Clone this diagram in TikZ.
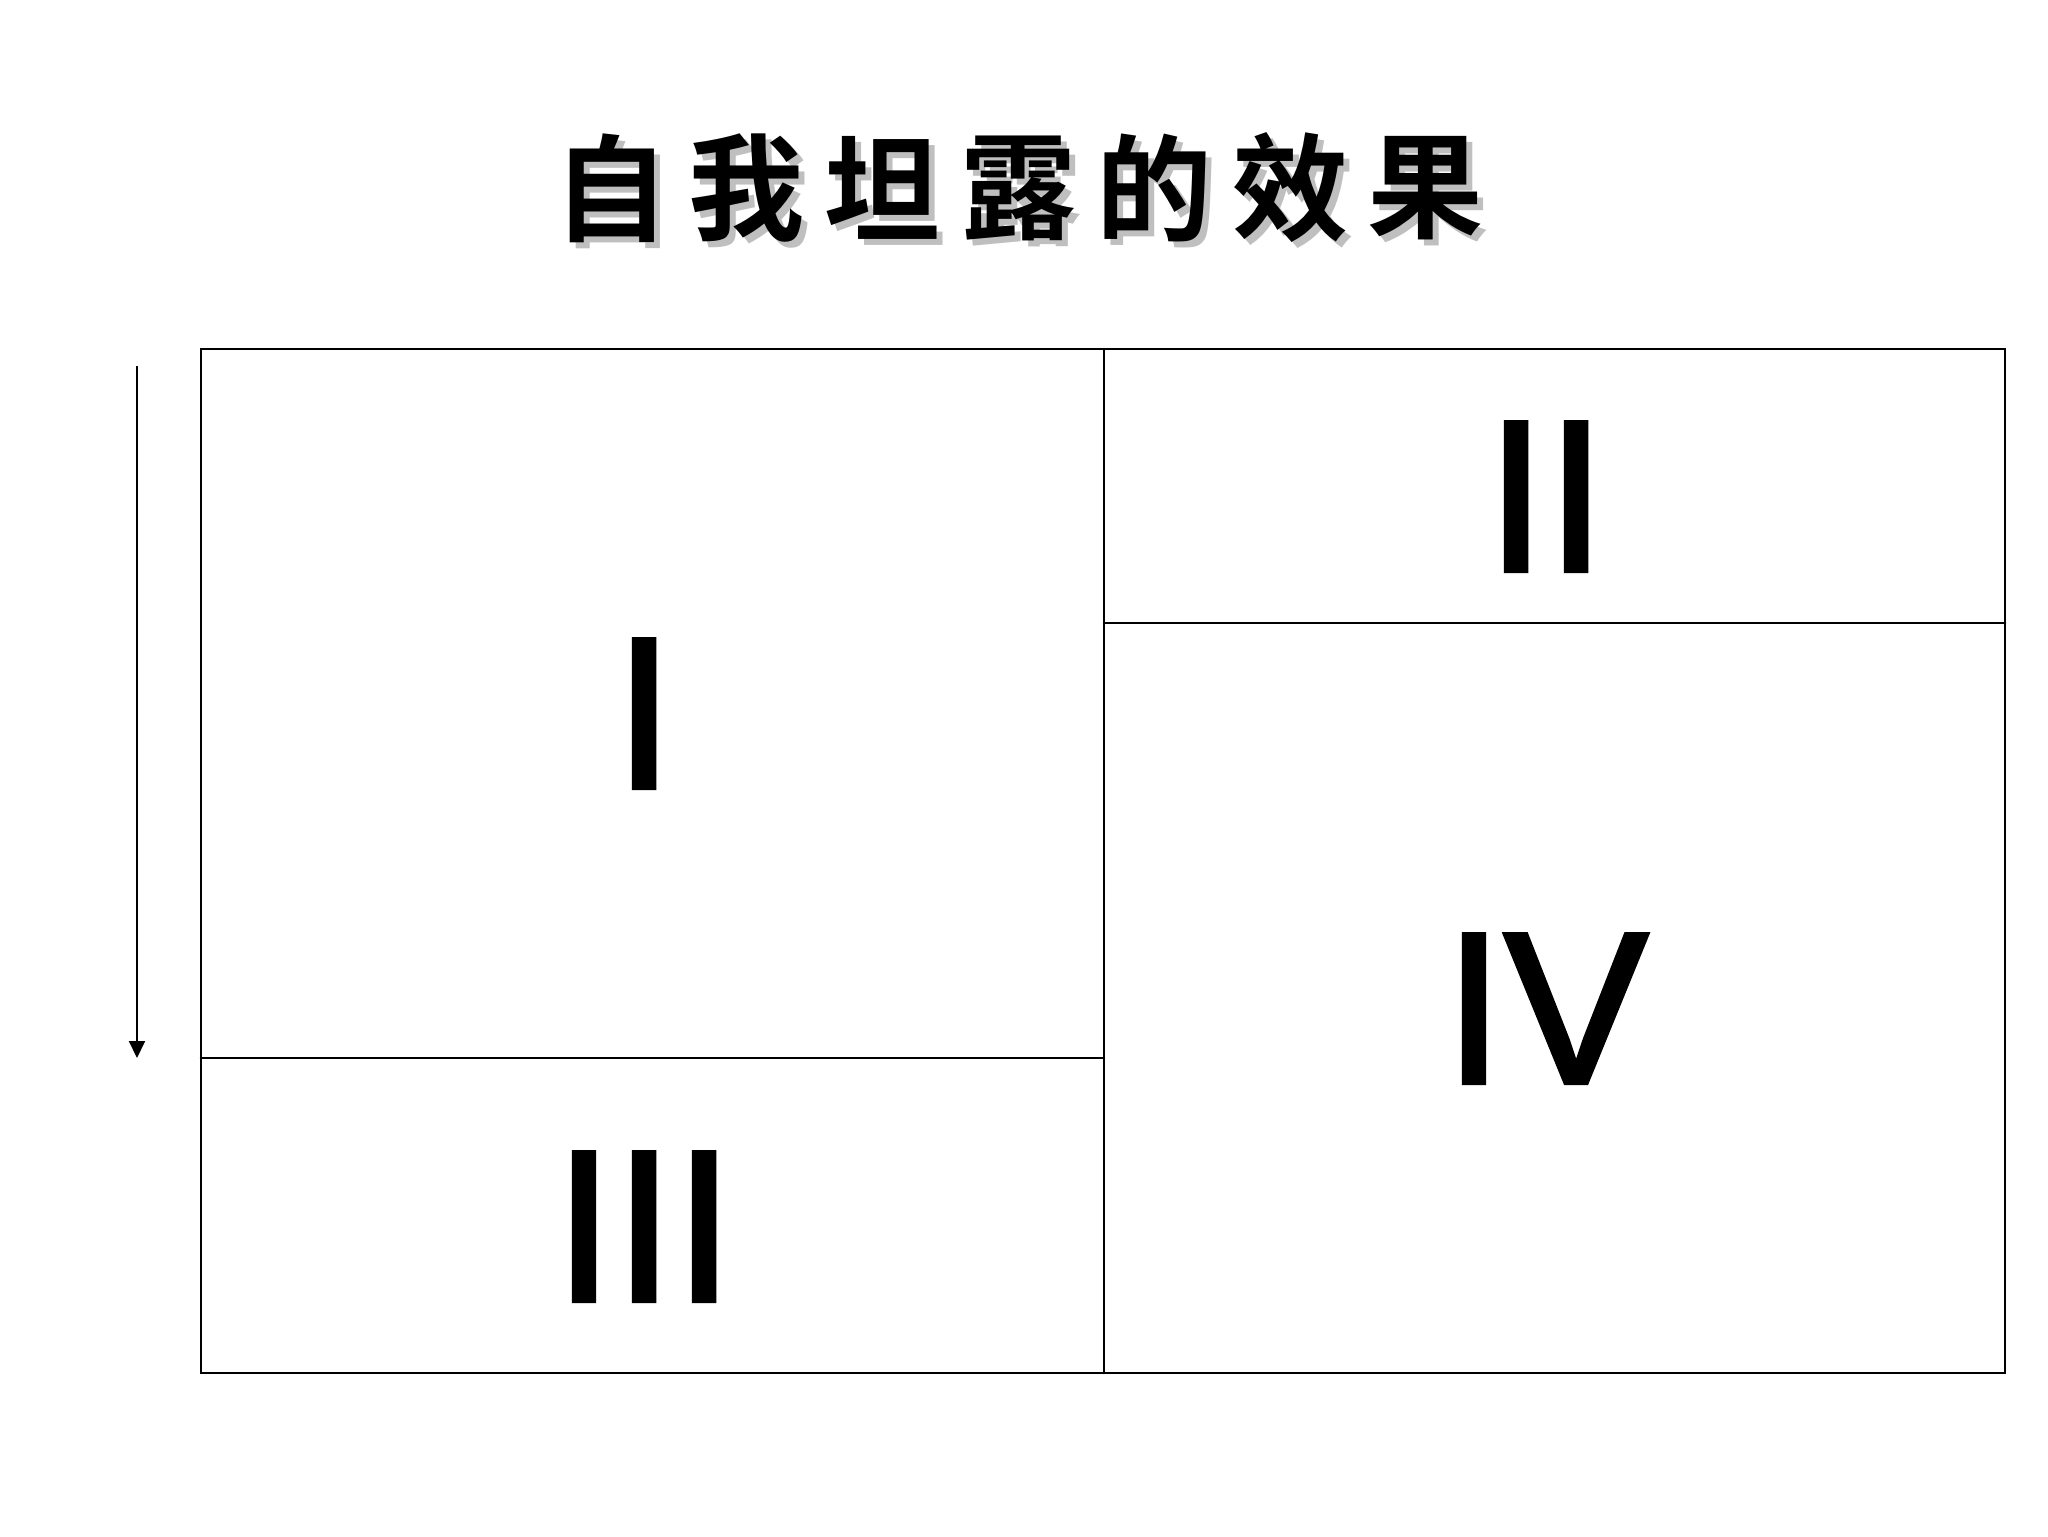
\documentclass[tikz,border=0pt]{standalone}
\usepackage{fontspec}
\setmainfont{Liberation Sans}
\newfontfamily\numfont[FakeBold=2]{Liberation Sans}
\newfontfamily\cjk{Noto Sans CJK SC Bold}
\usetikzlibrary{arrows.meta}
\tikzset{
  frame/.style={line width=1.3pt, line cap=round},
  numeral/.style={font=\numfont\fontsize{108}{108}\selectfont, inner sep=0pt, anchor=base},
  titlech/.style={font=\cjk\fontsize{58}{58}\selectfont, inner sep=0pt, anchor=center},
  shadowch/.style={titlech, text=black!25},
  flowarrow/.style={line width=1pt, -{Triangle[length=8.5pt,width=8pt]}}
}
\begin{document}
\begin{tikzpicture}[x=0.5pt,y=-0.5pt]
\useasboundingbox (0,0) rectangle (2048,1536);
% title with shadow
\foreach \c [count=\i] in {自,我,坦,露,的,效,果}{
  \node[shadowch] (s\i) at ({611+135.8*(\i-1)+6},194) {\c};
}
\foreach \c [count=\i] in {自,我,坦,露,的,效,果}{
  \node[titlech] (t\i) at ({611+135.8*(\i-1)},188) {\c};
}
% grid corners
\coordinate (tl) at (201,349);
\coordinate (tr) at (2005,349);
\coordinate (bl) at (201,1373);
\coordinate (br) at (2005,1373);
\coordinate (tm) at (1104,349);
\coordinate (bm) at (1104,1373);
\coordinate (rh1) at (1104,623);
\coordinate (rh2) at (2005,623);
\coordinate (lh1) at (201,1058);
\coordinate (lh2) at (1104,1058);
\draw[frame] (tl) -- (tr) -- (br) -- (bl) -- cycle;
\draw[frame] (tm) -- (bm);
\draw[frame] (rh1) -- (rh2);
\draw[frame] (lh1) -- (lh2);
% arrow
\coordinate (a1) at (137,366);
\coordinate (a2) at (137,1058);
\draw[flowarrow] (a1) -- (a2);
% numerals
\node[numeral] (n1) at (644,788) {I};
\node[numeral] (n2) at (1546,571) {II};
\node[numeral] (n3) at (644,1301) {III};
\node[numeral] (n4) at (1546,1083) {IV};
\end{tikzpicture}
\end{document}
